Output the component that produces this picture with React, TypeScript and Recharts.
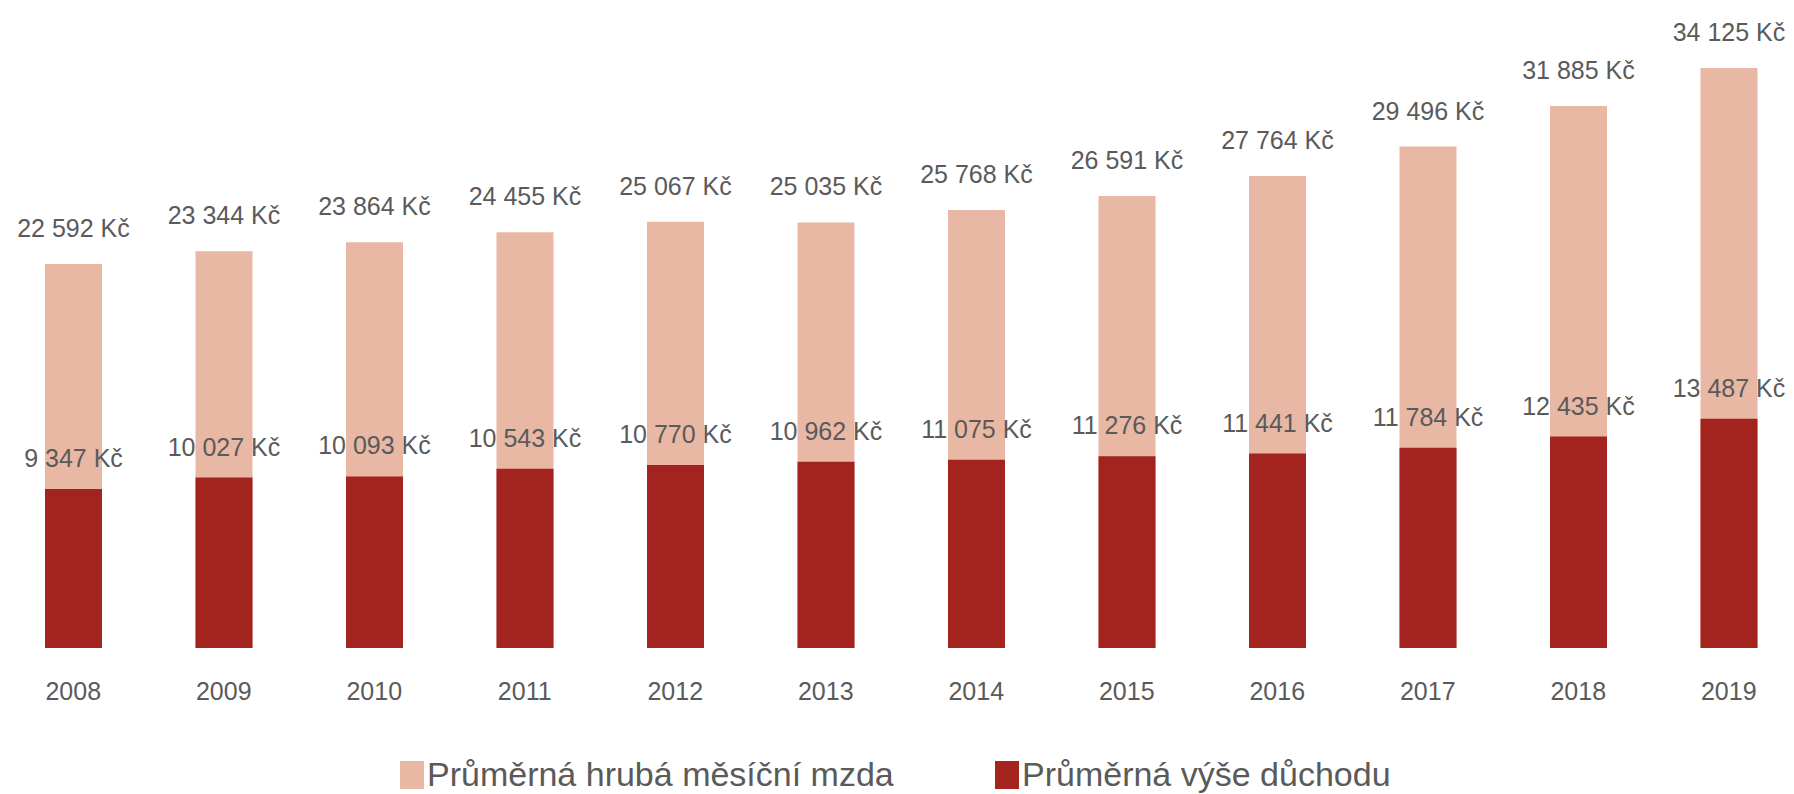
import { BarChart, Bar, XAxis, YAxis, LabelList } from 'recharts'

const years = ['2008', '2009', '2010', '2011', '2012', '2013', '2014', '2015', '2016', '2017', '2018', '2019']
const wages = [22592, 23344, 23864, 24455, 25067, 25035, 25768, 26591, 27764, 29496, 31885, 34125]
const pensions = [9347, 10027, 10093, 10543, 10770, 10962, 11075, 11276, 11441, 11784, 12435, 13487]

const WAGE_COLOR = '#e8b8a5'
const PENSION_COLOR = '#a3231e'
const TEXT_COLOR = '#5a5a5a'
const FONT = '"Liberation Sans", Arial, sans-serif'

const chartData = years.map((year, i) => ({
  year,
  wage: wages[i],
  pension: pensions[i],
}))

function formatKc(v: number) {
  return String(v).replace(/\B(?=(\d{3})+(?!\d))/g, ' ') + ' Kč'
}

// value label above the bar, kept on one line
function makeLabel(offset: number) {
  return (props: any) => {
    const { x, y, width, value } = props
    return (
      <text
        x={Number(x) + Number(width) / 2}
        y={Number(y) - offset}
        textAnchor="middle"
        fill={TEXT_COLOR}
        fontSize={25}
        fontFamily={FONT}
      >
        {formatKc(Number(value))}
      </text>
    )
  }
}

const legendItems = [
  { label: 'Průměrná hrubá měsíční mzda', color: WAGE_COLOR, left: 400 },
  { label: 'Průměrná výše důchodu', color: PENSION_COLOR, left: 995 },
]

export default function App() {
  return (
    <div
      style={{
        position: 'absolute',
        left: 0,
        top: 0,
        width: 1794,
        height: 794,
        overflow: 'hidden',
        background: '#fff',
      }}
    >
      <div style={{ position: 'absolute', left: -2, top: 0 }}>
        <BarChart
          width={1806}
          height={794}
          data={chartData}
          margin={{ top: 36, right: 0, bottom: 116, left: 0 }}
          barSize={57}
          barGap={-57}
        >
          <XAxis
            dataKey="year"
            axisLine={false}
            tickLine={false}
            tickSize={0}
            tickMargin={34}
            height={30}
            tick={{ fontSize: 25, fill: TEXT_COLOR, fontFamily: FONT }}
          />
          <YAxis hide domain={[0, 36000]} />
          <Bar dataKey="wage" fill={WAGE_COLOR} isAnimationActive={false}>
            <LabelList dataKey="wage" content={makeLabel(27)} />
          </Bar>
          <Bar dataKey="pension" fill={PENSION_COLOR} isAnimationActive={false}>
            <LabelList dataKey="pension" content={makeLabel(22)} />
          </Bar>
        </BarChart>
      </div>

      {/* legend */}
      <svg
        width={1794}
        height={54}
        style={{ position: 'absolute', left: 0, top: 740 }}
      >
        {legendItems.map((item) => (
          <g key={item.label}>
            <rect x={item.left} y={21} width={24} height={28} fill={item.color} />
            <text
              x={item.left + 27}
              y={46}
              fill={TEXT_COLOR}
              fontSize={34}
              fontFamily={FONT}
            >
              {item.label}
            </text>
          </g>
        ))}
      </svg>
    </div>
  )
}
